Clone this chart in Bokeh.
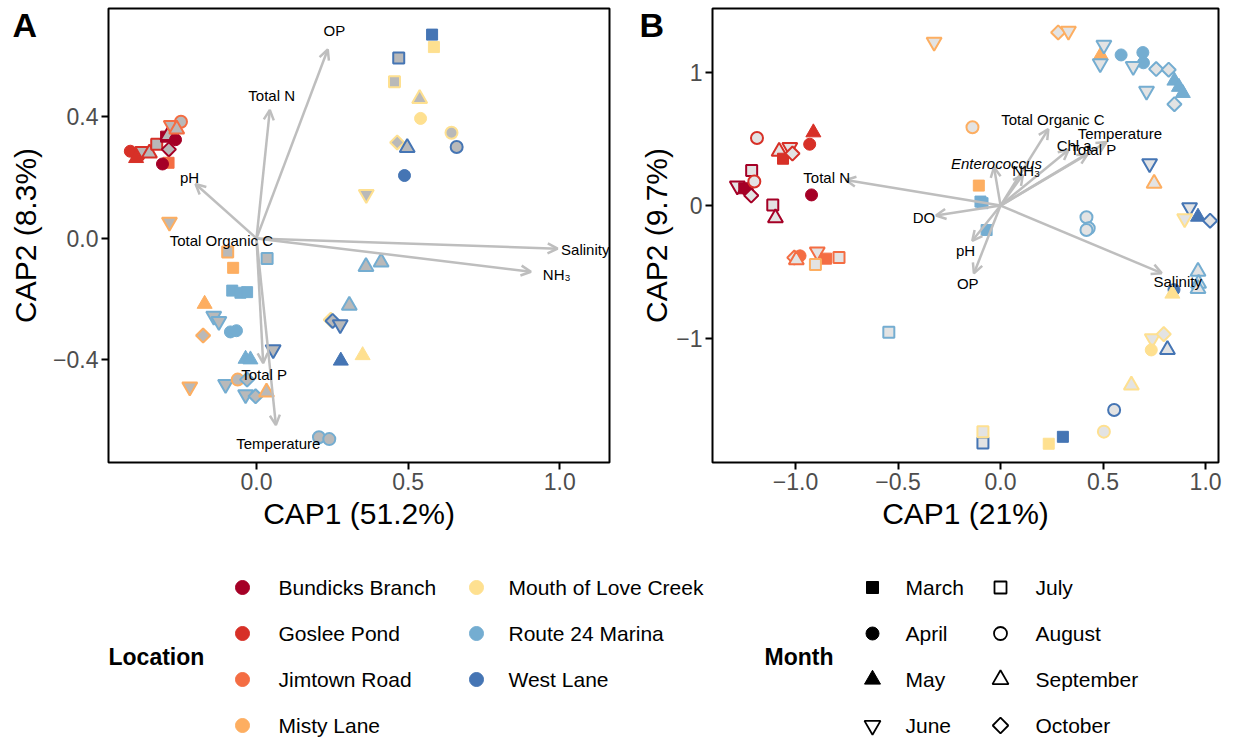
import math
from bokeh.plotting import figure
from bokeh.models import (ColumnDataSource, Range1d, FixedTicker, Arrow, OpenHead,
                          Title, CustomJSTickFormatter)
from bokeh.layouts import column, row
from bokeh.embed import file_html
from bokeh.resources import INLINE
from bokeh.core.properties import value

FONT = "Liberation Sans"
GREY = "#bebebe"

# ---------------- categories ----------------
sites = ["Bundicks Branch", "Goslee Pond", "Jimtown Road", "Misty Lane",
         "Mouth of Love Creek", "Route 24 Marina", "West Lane"]
site_codes = ["BB", "GP", "JR", "ML", "LC", "RM", "WL"]
site_colors = ["#a50026", "#d73027", "#f46d43", "#fdae61", "#fee090", "#74add1", "#4575b4"]

months = ["March", "April", "May", "June", "July", "August", "September", "October"]
month_codes = ["Mar", "Apr", "May", "Jun", "Jul", "Aug", "Sep", "Oct"]
month_markers = ["square", "circle", "triangle", "inverted_triangle",
                 "square", "circle", "triangle", "square"]
month_angles = [0, 0, 0, 0, 0, 0, 0, math.pi / 4]
month_sizes = [11, 12, 15, 15, 11, 12, 15, 10]
month_filled = [True, True, True, False, False, False, False, False]

# ---------------- panel A (CAP1 51.2%, CAP2 8.3%) ----------------
a_site = ["WL", "LC", "WL", "LC", "LC", "LC", "LC", "LC", "WL", "WL", "WL", "LC",
          "ML", "ML", "RM", "ML", "RM", "RM", "RM", "ML", "RM", "RM", "ML", "RM", "RM",
          "RM", "RM", "WL", "ML", "RM", "ML", "RM", "RM", "RM", "ML", "RM", "RM",
          "RM", "RM", "RM", "LC", "WL", "WL", "WL", "LC",
          "GP", "GP", "GP", "GP", "GP", "BB", "BB", "BB", "BB", "JR", "BB", "JR", "JR", "JR"]
a_month = ["Mar", "Mar", "Jul", "Jul", "Sep", "Apr", "Aug", "Oct", "Sep", "Aug", "Apr", "Jun",
           "Jun", "Jul", "Jul", "Mar", "Mar", "Mar", "Mar", "May", "Jun", "Jun", "Oct", "Apr", "Apr",
           "May", "May", "Jun", "Jun", "Jun", "Aug", "Oct", "Jun", "Oct", "Sep", "Aug", "Aug",
           "Sep", "Sep", "Sep", "Oct", "Oct", "Jun", "May", "May",
           "Apr", "May", "Jun", "Sep", "Jul", "Mar", "Sep", "Apr", "Oct", "Mar", "Apr", "Jun", "Aug", "Sep"]
a_cap1 = [0.579, 0.585, 0.469, 0.455, 0.538, 0.541, 0.643, 0.464, 0.497, 0.660, 0.488, 0.362,
          -0.287, -0.095, 0.035, -0.077, -0.080, -0.053, -0.031, -0.171, -0.141, -0.124, -0.176, -0.086, -0.066,
          -0.036, -0.020, 0.055, -0.220, -0.102, -0.062, -0.031, -0.036, -0.003, 0.033, 0.206, 0.240,
          0.361, 0.411, 0.306, 0.245, 0.251, 0.276, 0.278, 0.350,
          -0.416, -0.397, -0.375, -0.353, -0.329, -0.298, -0.292, -0.267, -0.289, -0.290, -0.310, -0.281, -0.249, -0.263]
a_cap2 = [0.671, 0.630, 0.594, 0.516, 0.460, 0.395, 0.348, 0.316, 0.299, 0.301, 0.207, 0.145,
          0.054, -0.045, -0.066, -0.097, -0.172, -0.179, -0.177, -0.216, -0.256, -0.273, -0.320, -0.308, -0.304,
          -0.397, -0.399, -0.366, -0.489, -0.481, -0.465, -0.465, -0.514, -0.520, -0.506, -0.655, -0.661,
          -0.093, -0.078, -0.221, -0.268, -0.272, -0.284, -0.403, -0.385,
          0.287, 0.264, 0.287, 0.281, 0.310, 0.335, 0.338, 0.325, 0.293, 0.249, 0.245, 0.372, 0.384, 0.360]

a_vars = ["OP", "Total N", "pH", "Total Organic C", "Salinity", "NH\u2083", "Total P", "Temperature"]
a_vec1 = [0.235, 0.044, -0.201, 0.0, 0.993, 0.905, 0.022, 0.064]
a_vec2 = [0.622, 0.423, 0.179, 0.0, -0.034, -0.110, -0.411, -0.615]
a_lab1 = [0.257, 0.050, -0.221, -0.116, 1.084, 0.990, 0.025, 0.072]
a_lab2 = [0.684, 0.469, 0.202, -0.006, -0.036, -0.118, -0.448, -0.675]

# ---------------- panel B (CAP1 21%, CAP2 9.7%) ----------------
b_site = ["BB", "BB", "BB", "BB", "BB", "BB", "BB", "BB",
          "GP", "GP", "GP", "GP", "GP", "GP", "GP", "GP",
          "JR", "JR", "JR", "JR", "JR", "JR", "ML",
          "ML", "ML", "ML", "ML", "ML", "ML", "ML",
          "RM", "RM", "RM", "RM", "RM", "RM", "RM", "RM", "RM", "RM", "RM", "RM", "RM",
          "RM", "RM", "RM", "RM", "RM", "RM", "RM", "RM", "RM", "RM",
          "WL", "WL", "WL", "WL", "WL", "WL", "WL", "WL", "WL",
          "LC", "LC", "LC", "LC", "LC", "LC", "LC", "LC", "LC"]
b_month = ["Apr", "Jul", "Sep", "Jun", "Mar", "Apr", "Oct", "Jul",
           "May", "Apr", "Aug", "Sep", "Jun", "Mar", "Oct", "Aug",
           "Oct", "Apr", "Sep", "Jun", "Mar", "Jul", "Jul",
           "Jun", "Oct", "Jun", "May", "Aug", "Mar", "Sep",
           "Jun", "Jun", "Apr", "Apr", "Apr", "Jun", "Oct", "Oct", "May", "May", "May", "Jun", "Oct",
           "Mar", "Mar", "Mar", "Aug", "Aug", "Aug", "Sep", "Sep", "Sep", "Jul",
           "Jun", "Jun", "May", "Oct", "Apr", "Sep", "Aug", "Mar", "Jul",
           "Jun", "May", "Jun", "Oct", "Apr", "Sep", "Aug", "Mar", "Jul"]
b_cap1 = [-0.922, -1.111, -1.098, -1.284, -1.250, -1.235, -1.216, -1.214,
          -0.913, -0.931, -1.188, -1.080, -1.028, -1.061, -1.015, -1.201,
          -1.006, -0.978, -0.996, -0.894, -0.851, -0.788, -0.903,
          -0.324, 0.281, 0.331, 0.489, -0.137, -0.106, 0.749,
          0.504, 0.486, 0.588, 0.694, 0.697, 0.647, 0.759, 0.820, 0.848, 0.870, 0.889, 0.712, 0.848,
          -0.098, -0.088, -0.068, 0.419, 0.430, 0.419, 0.963, 0.966, 0.963, -0.545,
          0.727, 0.922, 0.963, 1.022, 0.846, 0.814, 0.554, 0.304, -0.086,
          0.898, 0.838, 0.740, 0.796, 0.735, 0.638, 0.504, 0.235, -0.086]
b_cap2 = [0.080, 0.005, -0.093, 0.148, 0.130, 0.115, 0.075, 0.264,
          0.549, 0.461, 0.508, 0.407, 0.438, 0.352, 0.391, 0.181,
          -0.391, -0.378, -0.409, -0.347, -0.399, -0.391, -0.443,
          1.228, 1.301, 1.311, 1.130, 0.589, 0.150, 0.166,
          1.207, 1.067, 1.132, 1.150, 1.073, 1.047, 1.026, 1.021, 0.938, 0.891, 0.845, 0.860, 0.762,
          0.030, 0.018, -0.184, -0.088, -0.171, -0.184, -0.495, -0.585, -0.624, -0.953,
          0.316, -0.016, -0.085, -0.114, -0.632, -1.083, -1.536, -1.738, -1.785,
          -0.098, -0.663, -1.000, -0.966, -1.085, -1.350, -1.699, -1.790, -1.699]

b_vars = ["Total Organic C", "Temperature", "Chl a", "Total P", "NH\u2083", "Enterococcus",
          "Total N", "DO", "pH", "OP", "Salinity"]
b_vec1 = [0.233, 0.517, 0.332, 0.424, 0.109, -0.032, -0.755, -0.315, -0.138, -0.130, 0.786]
b_vec2 = [0.575, 0.477, 0.420, 0.386, 0.231, 0.288, 0.192, -0.075, -0.265, -0.510, -0.508]
b_lab1 = [0.255, 0.582, 0.359, 0.452, 0.125, -0.020, -0.848, -0.374, -0.171, -0.160, 0.864]
b_lab2 = [0.650, 0.541, 0.451, 0.420, 0.263, 0.313, 0.210, -0.092, -0.338, -0.584, -0.573]
b_italic = ["Enterococcus"]


def point_source(site_list, month_list, xs, ys, open_fill):
    si = [site_codes.index(s) for s in site_list]
    mi = [month_codes.index(m) for m in month_list]
    return ColumnDataSource(dict(
        x=xs, y=ys,
        marker=[month_markers[m] for m in mi],
        angle=[month_angles[m] for m in mi],
        size=[month_sizes[m] for m in mi],
        line=[site_colors[s] for s in si],
        fill=[site_colors[s] if month_filled[m] else open_fill for s, m in zip(si, mi)],
        lw=[1 if month_filled[m] else 2 for m in mi],
    ))


def fmt(dec):
    return CustomJSTickFormatter(code="return tick.toFixed(%d).replace('-', '\\u2212');" % dec)


def make_panel(xr, yr, xticks, yticks, xdec, ydec, xlabel, ylabel, fw, left, right, ystand):
    p = figure(frame_width=fw, frame_height=454, x_range=Range1d(*xr), y_range=Range1d(*yr),
               output_backend="svg", toolbar_location=None,
               min_border_left=left, min_border_right=right, min_border_top=8, min_border_bottom=78,
               background_fill_color="white", border_fill_color="white")
    p.xgrid.visible = False
    p.ygrid.visible = False
    p.outline_line_color = "black"
    p.outline_line_width = 2
    for ax, ticks, dec, lab in ((p.xaxis[0], xticks, xdec, xlabel), (p.yaxis[0], yticks, ydec, ylabel)):
        ax.ticker = FixedTicker(ticks=ticks)
        ax.formatter = fmt(dec)
        ax.axis_label = lab
        ax.axis_label_text_font = FONT
        ax.axis_label_text_font_size = "30px"
        ax.axis_label_text_font_style = "normal"
        ax.axis_label_text_color = "black"
        ax.major_label_text_font = FONT
        ax.major_label_text_font_size = "23px"
        ax.major_label_text_color = "#4d4d4d"
        ax.axis_line_color = None
        ax.major_tick_line_color = "black"
        ax.major_tick_line_width = 2
        ax.major_tick_out = 7
        ax.major_tick_in = 0
        ax.minor_tick_line_color = None
        ax.major_label_standoff = 3
    p.xaxis[0].axis_label_standoff = 4
    p.yaxis[0].axis_label_standoff = ystand
    return p


def add_content(p, src, vars_, v1, v2, l1, l2, italic):
    p.scatter(x="x", y="y", source=src, marker="marker", size="size", angle="angle",
              fill_color="fill", line_color="line", line_width="lw")
    keep = [i for i in range(len(vars_)) if math.hypot(v1[i], v2[i]) > 0.02]
    asrc = ColumnDataSource(dict(x0=[0.0] * len(keep), y0=[0.0] * len(keep),
                                 x1=[v1[i] for i in keep], y1=[v2[i] for i in keep]))
    p.add_layout(Arrow(end=OpenHead(size=10, line_color=GREY, line_width=2.5),
                       x_start="x0", y_start="y0", x_end="x1", y_end="y1", source=asrc,
                       line_color=GREY, line_width=2.5))
    for style in ("normal", "italic"):
        idx = [i for i in range(len(vars_)) if (vars_[i] in italic) == (style == "italic")]
        if not idx:
            continue
        tsrc = ColumnDataSource(dict(x=[l1[i] for i in idx], y=[l2[i] for i in idx],
                                     t=[vars_[i] for i in idx]))
        p.text(x="x", y="y", text="t", source=tsrc, text_align="center", text_baseline="middle",
               text_font=value(FONT), text_font_size="15px", text_font_style=style,
               text_color="black", level="overlay")


def panel_letter(p, letter, offset):
    p.add_layout(Title(text=letter, align="left", offset=offset, standoff=-70,
                       vertical_align="bottom", text_font=FONT, text_font_size="34px",
                       text_font_style="bold", text_color="black"), "above")


# Panel A
xA = (-0.488, 1.164)
yA = (-0.738, 0.757)
pA = make_panel(xA, yA, [0, 0.5, 1.0], [-0.4, 0.0, 0.4], 1, 1,
                "CAP1 (51.2%)", "CAP2 (8.3%)", 501, 108, 21, 8)
add_content(pA, point_source(a_site, a_month, a_cap1, a_cap2, "#b9b9b9"),
            a_vars, a_vec1, a_vec2, a_lab1, a_lab2, [])
panel_letter(pA, "A", -96)

# Panel B
xB = (-1.405, 1.063)
yB = (-1.931, 1.481)
pB = make_panel(xB, yB, [-1.0, -0.5, 0.0, 0.5, 1.0], [-1, 0, 1], 1, 0,
                "CAP1 (21%)", "CAP2 (9.7%)", 506, 82, 18, 0)
add_content(pB, point_source(b_site, b_month, b_cap1, b_cap2, "#e3e3e3"),
            b_vars, b_vec1, b_vec2, b_lab1, b_lab2, b_italic)
panel_letter(pB, "B", -73)

# Legend panel (rows mapped through an inverted y range)
LH = 198
pL = figure(frame_width=1236, frame_height=LH, x_range=Range1d(0, 1236),
            y_range=Range1d((LH - 47) / 46, -47 / 46), output_backend="svg",
            toolbar_location=None, min_border=0, outline_line_color=None,
            x_axis_location=None, y_axis_location=None,
            background_fill_color="white", border_fill_color="white")
pL.xgrid.visible = False
pL.ygrid.visible = False

loc_gx = [242, 476]
loc_tx = [278, 508]
lsrc = ColumnDataSource(dict(
    gx=[loc_gx[i // 4] for i in range(len(sites))],
    tx=[loc_tx[i // 4] for i in range(len(sites))],
    y=[i % 4 for i in range(len(sites))], c=site_colors, t=sites))
pL.scatter(x="gx", y="y", source=lsrc, marker="circle", size=14, fill_color="c", line_color="c")
pL.text(x="tx", y="y", text="t", source=lsrc, text_baseline="middle", text_align="left",
        text_font=value(FONT), text_font_size="21px", text_color="black")

mon_gx = [872, 1000]
mon_tx = [905, 1035]
msrc = ColumnDataSource(dict(
    gx=[mon_gx[i // 4] for i in range(len(months))],
    tx=[mon_tx[i // 4] for i in range(len(months))],
    y=[i % 4 for i in range(len(months))], t=months,
    marker=month_markers, angle=month_angles,
    size=[s + 1 for s in month_sizes],
    fill=["black" if f else "white" for f in month_filled],
    lw=[1 if f else 1.8 for f in month_filled]))
pL.scatter(x="gx", y="y", source=msrc, marker="marker", size="size", angle="angle",
           fill_color="fill", line_color="black", line_width="lw")
pL.text(x="tx", y="y", text="t", source=msrc, text_baseline="middle", text_align="left",
        text_font=value(FONT), text_font_size="21px", text_color="black")

tsrc = ColumnDataSource(dict(x=[108, 764], y=[1.5, 1.5], t=["Location", "Month"]))
pL.text(x="x", y="y", text="t", source=tsrc, text_baseline="middle", text_align="left",
        text_font=value(FONT), text_font_size="23px", text_font_style="bold", text_color="black")

layout = column(row(pA, pB), pL)
open("out.html", "w").write(file_html(layout, INLINE))
